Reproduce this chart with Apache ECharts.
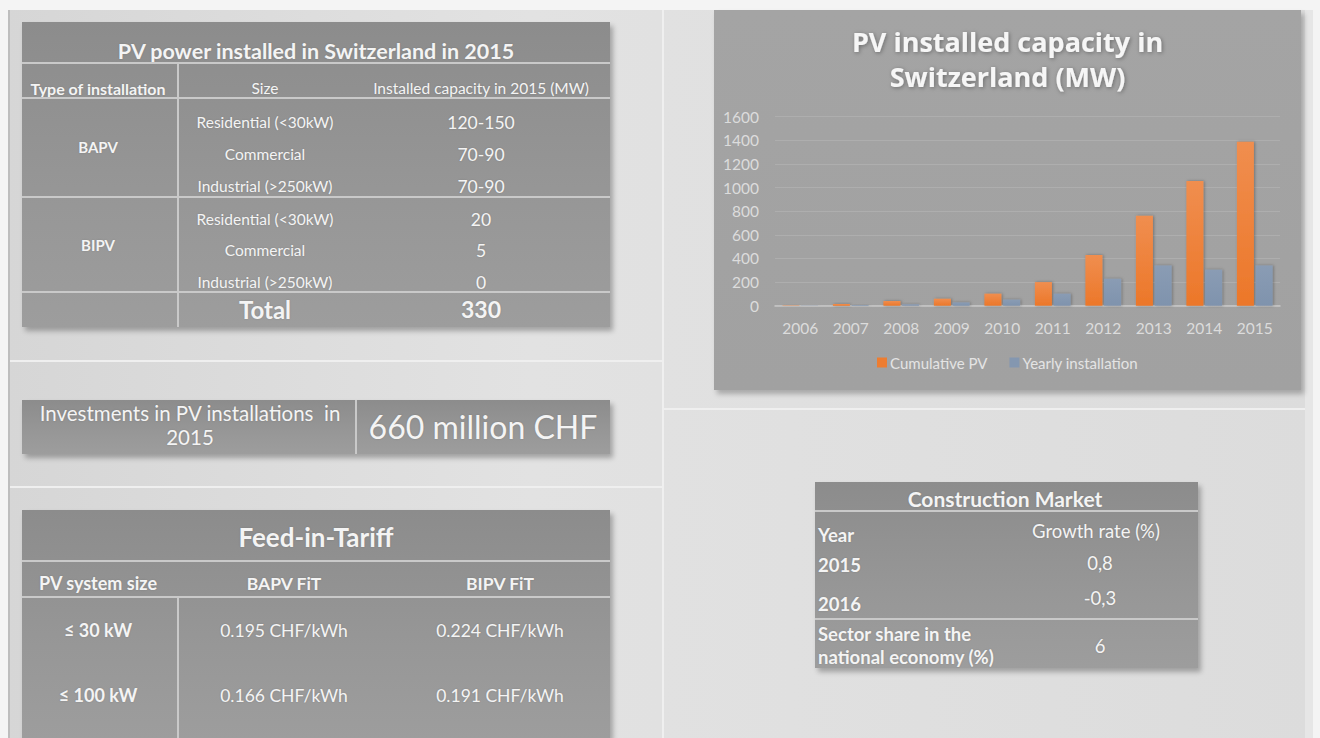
<!DOCTYPE html>
<html>
<head>
<meta charset="utf-8">
<script src="https://cdn.jsdelivr.net/npm/echarts@6/dist/echarts.min.js"></script>
<style>
  html, body { margin:0; padding:0; width:1320px; height:738px; overflow:hidden; background:#f4f4f4; font-family: Lato, "Noto Sans", sans-serif; }
  #stage { position:absolute; left:8px; top:10px; width:1305px; height:728px;
    background: linear-gradient(90deg, #d6d6d6 0%, #e2e2e2 40%, #dcdcdc 100%);
    box-shadow: inset 2px 0 0 #bdbdbd, inset -8px 0 0 #e6e6e6; }
  .line { position:absolute; background:#efefef; }
  .panel { position:absolute; background: linear-gradient(180deg, #8c8c8c 0%, #979797 60%, #9d9d9d 100%);
    box-shadow: 3px 4px 5px rgba(0,0,0,0.28); color:#f4f4f4; }
  .t { position:absolute; white-space:pre; transform:translate(-50%,-50%); text-shadow: 0 0 2px rgba(0,0,0,0.15); }
  .l { position:absolute; white-space:pre; transform:translate(0,-50%); text-shadow: 0 0 2px rgba(0,0,0,0.15); }
  .b { font-weight:700; }
  .hl { position:absolute; height:2px; background:#c9c9c9; }
  .vl { position:absolute; width:2px; background:#c9c9c9; }
  #chartPanel { position:absolute; left:714px; top:10px; width:587px; height:380px;
    background: linear-gradient(180deg, #a4a4a4 0%, #a1a1a1 100%); box-shadow: 3px 4px 5px rgba(0,0,0,0.25); }
  #chart { position:absolute; left:0; top:0; width:587px; height:380px; }
</style>
</head>
<body>
<div id="stage"></div>
<div id="root"></div>
<div id="chartPanel"><div id="chart"></div></div>
<script>
// ---------- DATA ----------
const years = ['2006','2007','2008','2009','2010','2011','2012','2013','2014','2015'];
const cumulativePV = [3, 14, 40, 59, 102, 200, 429, 762, 1055, 1388];
const yearlyInstallation = [2, 6, 12, 28, 52, 102, 228, 341, 305, 341];
const seriesNames = ['Cumulative PV', 'Yearly installation'];
const chartTitle = ['PV installed capacity in', 'Switzerland (MW)'];

const table1Title = 'PV power installed in Switzerland in 2015';
const table1Header = ['Type of installation', 'Size', 'Installed capacity in 2015 (MW)'];
const installTypes = ['BAPV', 'BIPV'];
const sizeLabels = ['Residential (<30kW)', 'Commercial', 'Industrial (>250kW)'];
const bapvCapacity = ['120-150', '70-90', '70-90'];
const bipvCapacity = ['20', '5', '0'];
const totalLabel = 'Total';
const totalCapacity = '330';

const investLabel = ['Investments in PV installations  in', '2015'];
const investValue = '660 million CHF';

const fitTitle = 'Feed-in-Tariff';
const fitHeader = ['PV system size', 'BAPV FiT', 'BIPV FiT'];
const fitSizes = ['≤ 30 kW', '≤ 100 kW'];
const bapvFit = ['0.195 CHF/kWh', '0.166 CHF/kWh'];
const bipvFit = ['0.224 CHF/kWh', '0.191 CHF/kWh'];

const cmTitle = 'Construction Market';
const cmHeader = ['Year', 'Growth rate (%)'];
const cmYears = ['2015', '2016'];
const cmGrowth = ['0,8', '-0,3'];
const cmShareLabel = ['Sector share in the', 'national economy (%)'];
const cmShare = '6';

// ---------- LAYOUT HELPERS ----------
const root = document.getElementById('root');
function el(cls, css, text) {
  const d = document.createElement('div');
  d.className = cls;
  Object.assign(d.style, css);
  if (text !== undefined) d.textContent = text;
  root.appendChild(d);
  return d;
}
function txt(text, x, y, size, bold) {
  return el('t' + (bold ? ' b' : ''), {left:x+'px', top:y+'px', fontSize:size+'px', color:'#f4f4f4'}, text);
}
function ltxt(text, x, y, size, bold) {
  return el('l' + (bold ? ' b' : ''), {left:x+'px', top:y+'px', fontSize:size+'px', color:'#f4f4f4'}, text);
}
function hline(x, y, w) { el('hl', {left:x+'px', top:(y-1)+'px', width:w+'px'}); }
function vline(x, y, h) { el('vl', {left:(x-1)+'px', top:y+'px', height:h+'px'}); }

// background divider lines
el('line', {left:'662px', top:'10px', width:'2px', height:'728px'});
el('line', {left:'10px', top:'360px', width:'652px', height:'2px'});
el('line', {left:'10px', top:'486px', width:'652px', height:'2px'});
el('line', {left:'664px', top:'408px', width:'641px', height:'2px'});

// ---------- TABLE 1 ----------
el('panel', {left:'22px', top:'22px', width:'588px', height:'305px'});
txt(table1Title, 316, 51, 21.5, true);
hline(22, 63, 588);
vline(178, 63, 264);
txt(table1Header[0], 98, 88, 16, true);
txt(table1Header[1], 265, 88, 15.5, false);
txt(table1Header[2], 481, 88, 15.5, false);
hline(22, 98, 588);
const rowY1 = [122, 154, 186], rowY2 = [219, 250, 282];
txt(installTypes[0], 98, 147, 15, true);
sizeLabels.forEach((s,i) => { txt(s, 265, rowY1[i], 15.5, false); txt(bapvCapacity[i], 481, rowY1[i], 17.5, false); });
hline(22, 197, 588);
txt(installTypes[1], 98, 245, 15, true);
sizeLabels.forEach((s,i) => { txt(s, 265, rowY2[i], 15.5, false); txt(bipvCapacity[i], 481, rowY2[i], 17.5, false); });
hline(22, 292, 588);
txt(totalLabel, 265, 309, 24, true);
txt(totalCapacity, 481, 309, 23, true);

// ---------- INVESTMENTS ----------
el('panel', {left:'22px', top:'400px', width:'588px', height:'54px'});
vline(356, 400, 54);
txt(investLabel[0], 190, 413, 20.5, false);
txt(investLabel[1], 190, 437, 20.5, false);
txt(investValue, 483, 426, 32, false);

// ---------- FEED-IN TARIFF ----------
el('panel', {left:'22px', top:'510px', width:'588px', height:'228px'});
txt(fitTitle, 316, 537, 26, true);
hline(22, 561, 588);
txt(fitHeader[0], 98, 583, 18, true);
txt(fitHeader[1], 284, 583, 17.5, true);
txt(fitHeader[2], 500, 583, 17.5, true);
hline(22, 597, 588);
vline(178, 597, 141);
const fitY = [630, 695];
fitSizes.forEach((s,i) => {
  txt(s, 98, fitY[i], 18, true);
  txt(bapvFit[i], 284, fitY[i], 17.5, false);
  txt(bipvFit[i], 500, fitY[i], 17.5, false);
});

// ---------- CONSTRUCTION MARKET ----------
el('panel', {left:'815px', top:'482px', width:'383px', height:'186px'});
txt(cmTitle, 1005, 498, 21, true);
hline(815, 511, 383);
ltxt(cmHeader[0], 818, 535, 18.5, true);
txt(cmHeader[1], 1096, 531, 18.5, false);
const cmY = [565, 604], cmVY = [563, 598];
cmYears.forEach((y,i) => { ltxt(y, 818, cmY[i], 18.5, true); txt(cmGrowth[i], 1100, cmVY[i], 18.5, false); });
hline(815, 619, 383);
ltxt(cmShareLabel[0], 818, 634, 18.5, true);
ltxt(cmShareLabel[1], 818, 657, 18.5, true);
txt(cmShare, 1100, 646, 18.5, false);

// ---------- BAR CHART ----------
const chart = echarts.init(document.getElementById('chart'), null, {renderer:'svg'});
const orangeGrad = new echarts.graphic.LinearGradient(0,0,0,1,[{offset:0,color:'#f08e4f'},{offset:1,color:'#ec7729'}]);
const blueGrad = new echarts.graphic.LinearGradient(0,0,0,1,[{offset:0,color:'#8a9cb4'},{offset:1,color:'#7f93ad'}]);
chart.setOption({
  animation:false,
  textStyle:{fontFamily:'Lato, "Noto Sans", sans-serif'},
  title:{
    text: chartTitle.join('\n'), left:'center', top:9,
    textStyle:{color:'#f6f6f6', fontSize:27, fontWeight:'bold', lineHeight:35, fontFamily:'Open Sans',
      textShadowColor:'rgba(0,0,0,0.35)', textShadowBlur:4, textShadowOffsetX:1, textShadowOffsetY:1}
  },
  legend:{
    bottom:15, left:'center', itemWidth:10, itemHeight:10, itemGap:22, icon:'rect',
    textStyle:{color:'#e4e4e4', fontSize:15, padding:[0,0,0,-2]},
    data:[{name:seriesNames[0], itemStyle:{color:'#ed7d31'}}, {name:seriesNames[1], itemStyle:{color:'#8497b0'}}]
  },
  grid:{left:61, right:21, top:106.7, bottom:84.3},
  xAxis:{
    type:'category', data:years,
    axisLine:{lineStyle:{color:'#c8c8c8', width:1.5}}, axisTick:{show:false},
    axisLabel:{color:'#dcdcdc', fontSize:15.5, margin:14}
  },
  yAxis:{
    type:'value', min:0, max:1600, interval:200,
    axisLine:{show:false}, axisTick:{show:false},
    axisLabel:{color:'#dcdcdc', fontSize:15.5, margin:16, formatter: v => String(v)},
    splitLine:{lineStyle:{color:'#aeaeae', width:1}}
  },
  series:[
    {name:seriesNames[0], type:'bar', data:cumulativePV, barWidth:17, barGap:'10%',
     itemStyle:{color:orangeGrad, shadowColor:'rgba(0,0,0,0.3)', shadowBlur:3, shadowOffsetX:1, shadowOffsetY:0}},
    {name:seriesNames[1], type:'bar', data:yearlyInstallation, barWidth:17,
     itemStyle:{color:blueGrad, shadowColor:'rgba(0,0,0,0.3)', shadowBlur:3, shadowOffsetX:1, shadowOffsetY:0}}
  ]
});
</script>
</body>
</html>
